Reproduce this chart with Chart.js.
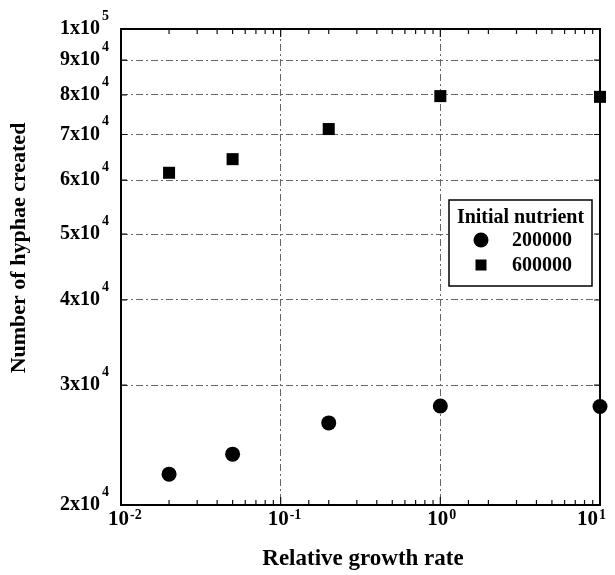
<!DOCTYPE html>
<html>
<head>
<meta charset="utf-8">
<script src="https://cdn.jsdelivr.net/npm/chart.js@4"></script>
<style>
  html, body { margin: 0; padding: 0; background: #fff; }
  #wrap { width: 615px; height: 575px; }
</style>
</head>
<body>
<div id="wrap"><canvas id="hyphaeChart" width="615" height="575"></canvas></div>
<script>
// relative growth rate values (x)
const growthRates = [0.02, 0.05, 0.2, 1, 10];
// number of hyphae created, per initial nutrient level
const hyphae200k = [22200, 23750, 26400, 27950, 27900];
const hyphae600k = [61500, 64400, 71300, 79700, 79500];
const seriesNames = ['200000', '600000'];
const legendTitle = 'Initial nutrient';
const xTicks = [0.01, 0.1, 1, 10];
const yTicks = [20000, 30000, 40000, 50000, 60000, 70000, 80000, 90000, 100000];

const serif = '"Liberation Serif", "Times New Roman", serif';

function toPoints(xs, ys) {
    return xs.map(function (x, i) { return { x: x, y: ys[i] }; });
}

function isMajor(v) {
    const l = Math.log10(v);
    return Math.abs(l - Math.round(l)) < 1e-9;
}

function isYGrid(v) {
    return yTicks.some(function (t) { return Math.abs(t - v) < 1; });
}

// mantissa x 10^exp text for y axis
function splitSci(v) {
    const exp = Math.floor(Math.log10(v) + 1e-9);
    const mant = Math.round(v / Math.pow(10, exp));
    return { base: mant + 'x10', exp: String(exp) };
}

const decorations = {
    id: 'decorations',
    afterDatasetsDraw(chart) {
        const ctx = chart.ctx;
        const a = chart.chartArea;
        const xs = chart.scales.x;
        const ys = chart.scales.y;
        ctx.save();

        // inside tick marks on bottom and top
        ctx.strokeStyle = '#111';
        ctx.lineWidth = 1.2;
        xs.ticks.forEach(function (t) {
            const px = xs.getPixelForValue(t.value);
            if (px <= a.left + 1 || px >= a.right - 1) return;
            const len = isMajor(t.value) ? 8 : 5;
            ctx.beginPath();
            ctx.moveTo(px, a.bottom);
            ctx.lineTo(px, a.bottom - len);
            ctx.moveTo(px, a.top);
            ctx.lineTo(px, a.top + len);
            ctx.stroke();
        });
        yTicks.forEach(function (v) {
            const py = ys.getPixelForValue(v);
            if (py <= a.top + 1 || py >= a.bottom - 1) return;
            ctx.beginPath();
            ctx.moveTo(a.left, py);
            ctx.lineTo(a.left + 6, py);
            ctx.moveTo(a.right, py);
            ctx.lineTo(a.right - 6, py);
            ctx.stroke();
        });

        // frame
        ctx.strokeStyle = '#000';
        ctx.lineWidth = 2;
        ctx.strokeRect(a.left, a.top, a.right - a.left, a.bottom - a.top);

        // y tick labels
        ctx.fillStyle = '#000';
        ctx.textBaseline = 'middle';
        yTicks.forEach(function (v) {
            const py = ys.getPixelForValue(v);
            const s = splitSci(v);
            ctx.font = 'bold 20px ' + serif;
            ctx.textAlign = 'right';
            ctx.fillText(s.base, a.left - 21, py);
            ctx.font = 'bold 14px ' + serif;
            ctx.textAlign = 'left';
            ctx.fillText(s.exp, a.left - 19, py - 13);
        });

        // x tick labels
        xTicks.forEach(function (v, i) {
            let px = xs.getPixelForValue(v);
            if (i === xTicks.length - 1) px -= 10;
            const exp = String(Math.round(Math.log10(v)));
            ctx.font = 'bold 21px ' + serif;
            ctx.textAlign = 'right';
            ctx.fillText('10', px + 8, a.bottom + 15);
            ctx.font = 'bold 14px ' + serif;
            ctx.textAlign = 'left';
            ctx.fillText(exp, px + 9, a.bottom + 10);
        });

        // axis titles
        ctx.font = 'bold 23px ' + serif;
        ctx.textAlign = 'center';
        ctx.fillText('Relative growth rate', 363, 559);
        ctx.save();
        ctx.translate(19, 248);
        ctx.rotate(-Math.PI / 2);
        ctx.font = 'bold 22px ' + serif;
        ctx.fillText('Number of hyphae created', 0, 0);
        ctx.restore();

        // legend box
        const bx = 449, by = 200, bw = 143, bh = 86;
        ctx.fillStyle = '#fff';
        ctx.fillRect(bx, by, bw, bh);
        ctx.strokeStyle = '#000';
        ctx.lineWidth = 1.5;
        ctx.strokeRect(bx, by, bw, bh);
        ctx.fillStyle = '#000';
        ctx.font = 'bold 20px ' + serif;
        ctx.textAlign = 'center';
        ctx.fillText(legendTitle, bx + bw / 2, by + 18);
        ctx.textAlign = 'left';
        ctx.fillText(seriesNames[0], 512, 241);
        ctx.fillText(seriesNames[1], 512, 266);
        ctx.beginPath();
        ctx.arc(481, 240, 7.5, 0, Math.PI * 2);
        ctx.fill();
        ctx.fillRect(475.5, 259.5, 11, 11);

        ctx.restore();
    }
};

new Chart(document.getElementById('hyphaeChart').getContext('2d'), {
    type: 'scatter',
    data: {
        datasets: [{
            label: seriesNames[0],
            data: toPoints(growthRates, hyphae200k),
            pointStyle: 'circle',
            pointRadius: 7.5,
            pointHoverRadius: 7.5,
            backgroundColor: '#000',
            borderColor: '#000',
            borderWidth: 0,
            clip: false
        }, {
            label: seriesNames[1],
            data: toPoints(growthRates, hyphae600k),
            pointStyle: 'rect',
            pointRadius: 8.5,
            pointHoverRadius: 8.5,
            backgroundColor: '#000',
            borderColor: '#000',
            borderWidth: 0,
            clip: false
        }]
    },
    options: {
        responsive: false,
        animation: false,
        events: [],
        layout: { padding: { left: 121, right: 15, top: 29, bottom: 70 } },
        plugins: {
            legend: { display: false },
            title: { display: false },
            tooltip: { enabled: false }
        },
        scales: {
            x: {
                type: 'logarithmic',
                min: 0.01,
                max: 10,
                border: { display: false, dash: [7, 3, 2, 3] },
                ticks: { display: false },
                grid: {
                    drawTicks: false,
                    color: function (c) {
                        return (c.tick && isMajor(c.tick.value)) ? '#666' : 'rgba(0,0,0,0)';
                    },
                    lineWidth: 1
                }
            },
            y: {
                type: 'logarithmic',
                min: 20000,
                max: 100000,
                border: { display: false, dash: [7, 3, 2, 3] },
                ticks: { display: false },
                grid: {
                    drawTicks: false,
                    color: function (c) {
                        return (c.tick && isYGrid(c.tick.value)) ? '#666' : 'rgba(0,0,0,0)';
                    },
                    lineWidth: 1
                }
            }
        }
    },
    plugins: [decorations]
});
</script>
</body>
</html>
